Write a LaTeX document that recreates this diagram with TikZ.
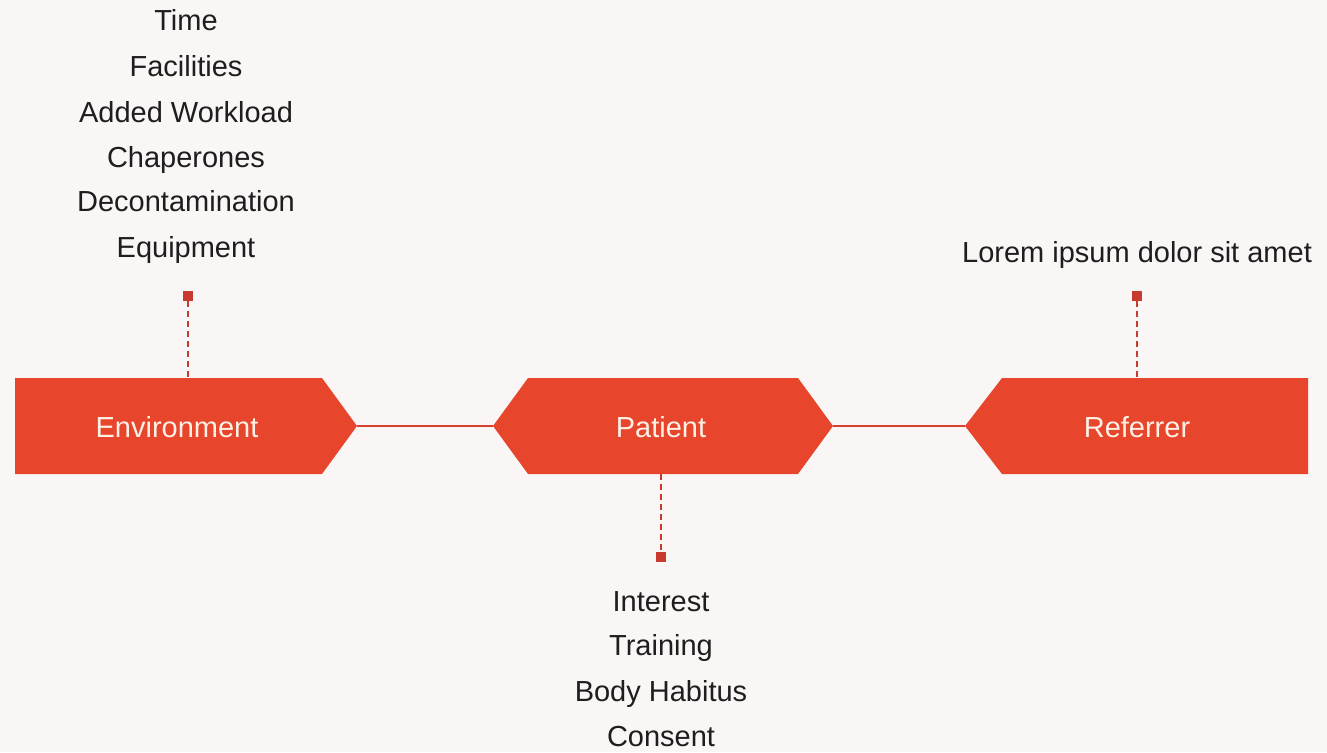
\documentclass[tikz,border=0pt]{standalone}
\usepackage{fontspec}
\setmainfont{Liberation Sans}
\definecolor{boxred}{HTML}{E8452D}
\definecolor{linered}{HTML}{D9412E}
\definecolor{dotred}{HTML}{C93A2E}
\definecolor{bg}{HTML}{FAF6F6}
\definecolor{txt}{HTML}{1E1E1E}
\definecolor{lbl}{HTML}{FDF0E4}
\begin{document}
\begin{tikzpicture}[x=1pt,y=-1pt,
  lbltext/.style={text=lbl,font=\fontsize{29}{34}\selectfont,anchor=base,inner sep=0pt},
  itemtext/.style={text=txt,font=\fontsize{29}{34}\selectfont,anchor=base,inner sep=0pt},
  joinline/.style={draw=linered,line width=2pt},
  dashline/.style={draw=dotred,line width=2pt,dash pattern=on 6pt off 4pt},
  dot/.style={fill=dotred,draw=none,minimum size=10pt,inner sep=0pt}]
\fill[bg] (0,0) rectangle (1327,752);
\useasboundingbox (0,0) rectangle (1327,752);
% shapes
\fill[boxred] (15,378) -- (322,378) -- (357,426) -- (322,474) -- (15,474) -- cycle;
\fill[boxred] (493,426) -- (528,378) -- (798,378) -- (833,426) -- (798,474) -- (528,474) -- cycle;
\fill[boxred] (965,426) -- (1002,378) -- (1308,378) -- (1308,474) -- (1002,474) -- cycle;
% anchor coordinates
\coordinate (envR) at (357,426);
\coordinate (patL) at (493,426);
\coordinate (patR) at (833,426);
\coordinate (refL) at (965,426);
\coordinate (envT) at (188,378);
\coordinate (patB) at (661,474);
\coordinate (refT) at (1137,378);
% labels
\node[lbltext] (env) at (177,437.5) {Environment};
\node[lbltext] (pat) at (661,437.5) {Patient};
\node[lbltext] (ref) at (1137,437.5) {Referrer};
% connectors
\draw[joinline] (envR) -- (patL);
\draw[joinline] (patR) -- (refL);
% dots
\node[dot] (d1) at (188,296) {};
\node[dot] (d2) at (661,557) {};
\node[dot] (d3) at (1137,296) {};
\draw[dashline] (d1) -- (envT);
\draw[dashline] (patB) -- (d2);
\draw[dashline] (d3) -- (refT);
% items
\node[itemtext] (e1) at (186,30.5) {Time};
\node[itemtext] (e2) at (186,76.5) {Facilities};
\node[itemtext] (e3) at (186,122.5) {Added Workload};
\node[itemtext] (e4) at (186,167.5) {Chaperones};
\node[itemtext] (e5) at (186,211.5) {Decontamination};
\node[itemtext] (e6) at (186,257.5) {Equipment};
\node[itemtext] (r1) at (1137,262.5) {Lorem ipsum dolor sit amet};
\node[itemtext] (p1) at (661,611.5) {Interest};
\node[itemtext] (p2) at (661,655.5) {Training};
\node[itemtext] (p3) at (661,701.5) {Body Habitus};
\node[itemtext] (p4) at (661,746.5) {Consent};
\end{tikzpicture}
\end{document}
